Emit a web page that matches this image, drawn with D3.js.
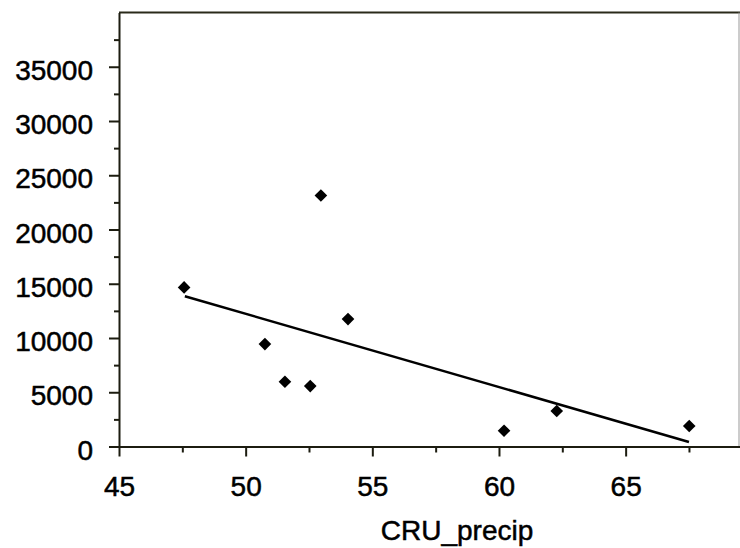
<!DOCTYPE html>
<html>
<head>
<meta charset="utf-8">
<script src="https://cdn.jsdelivr.net/npm/d3@7"></script>
<style>
    body { margin: 0; background: #fff; }
    text { font-family: "Liberation Sans", Arial, sans-serif; fill: #000; stroke: #000; stroke-width: 0.5px; }
    .axis path, .axis line { stroke: #1c1c10; stroke-width: 2; }
</style>
</head>
<body>
<div id="main"></div>
<script>
const ctx = {
    SVG_W: 740,
    SVG_H: 548,
};

// points
const precip = [47.57, 52.97, 54.04, 50.76, 51.55, 52.55, 60.2, 62.28, 67.51];
const values = [14660, 23135, 11740, 9440, 5970, 5570, 1455, 3270, 1890];

// trend line ends
const fitX = [47.6, 67.5];
const fitY = [13850, 420];

const xMajor = [45, 50, 55, 60, 65];
const xMinor = [47.5, 52.5, 57.5, 62.5, 67.5];
const yMajor = [0, 5000, 10000, 15000, 20000, 25000, 30000, 35000];
const yMinor = [2500, 7500, 12500, 17500, 22500, 27500, 32500, 37500];

function createViz() {
    let svgEl = d3.select("#main").append("svg")
        .attr("width", ctx.SVG_W)
        .attr("height", ctx.SVG_H);

    let x = d3.scaleLinear().domain([45, 70]).range([119, 752.3]);
    let y = d3.scaleLinear().domain([0, 40000]).range([446.5, 12.5]);

    // frame: top line and faint right edge
    svgEl.append("line")
        .attr("x1", x(45)).attr("x2", ctx.SVG_W)
        .attr("y1", y(40000)).attr("y2", y(40000))
        .attr("stroke", "#2a2a1a").attr("stroke-width", 2);
    svgEl.append("line")
        .attr("x1", 739).attr("x2", 739)
        .attr("y1", y(40000)).attr("y2", y(0))
        .attr("stroke", "#999").attr("stroke-width", 1);

    // minor ticks
    svgEl.append("g").attr("class", "axis")
        .attr("transform", "translate(0," + y(0) + ")")
        .call(d3.axisBottom(x).tickValues(xMinor).tickFormat("").tickSize(6).tickSizeOuter(0))
        .select(".domain").remove();
    svgEl.append("g").attr("class", "axis")
        .attr("transform", "translate(" + x(45) + ",0)")
        .call(d3.axisLeft(y).tickValues(yMinor).tickFormat("").tickSize(5).tickSizeOuter(0))
        .select(".domain").remove();

    // major axes
    let xAxis = svgEl.append("g").attr("class", "axis")
        .attr("transform", "translate(0," + y(0) + ")")
        .call(d3.axisBottom(x).tickValues(xMajor).tickSize(10).tickPadding(20).tickSizeOuter(0));
    xAxis.selectAll("text").style("font-size", "28px");

    let yAxis = svgEl.append("g").attr("class", "axis")
        .attr("transform", "translate(" + x(45) + ",0)")
        .call(d3.axisLeft(y).tickValues(yMajor).tickSize(10).tickPadding(16).tickFormat(d3.format("d")).tickSizeOuter(0));
    yAxis.selectAll("text").style("font-size", "28px").attr("dy", "0.45em");

    // trend line
    let line = d3.line().x(d => x(d[0])).y(d => y(d[1]));
    svgEl.append("path")
        .datum(d3.zip(fitX, fitY))
        .attr("d", line)
        .attr("fill", "none")
        .attr("stroke", "#000")
        .attr("stroke-width", 2.5);

    // points
    let sym = d3.symbol().type(d3.symbolSquare).size(80);
    svgEl.append("g").selectAll("path")
        .data(d3.zip(precip, values))
        .enter()
        .append("path")
        .attr("d", sym)
        .attr("transform", d => "translate(" + x(d[0]) + "," + y(d[1]) + ") rotate(45)")
        .attr("fill", "#000");

    // axis title
    svgEl.append("text")
        .attr("x", 457)
        .attr("y", 540)
        .attr("text-anchor", "middle")
        .style("font-size", "28px")
        .text("CRU_precip");
}

createViz();
</script>
</body>
</html>
